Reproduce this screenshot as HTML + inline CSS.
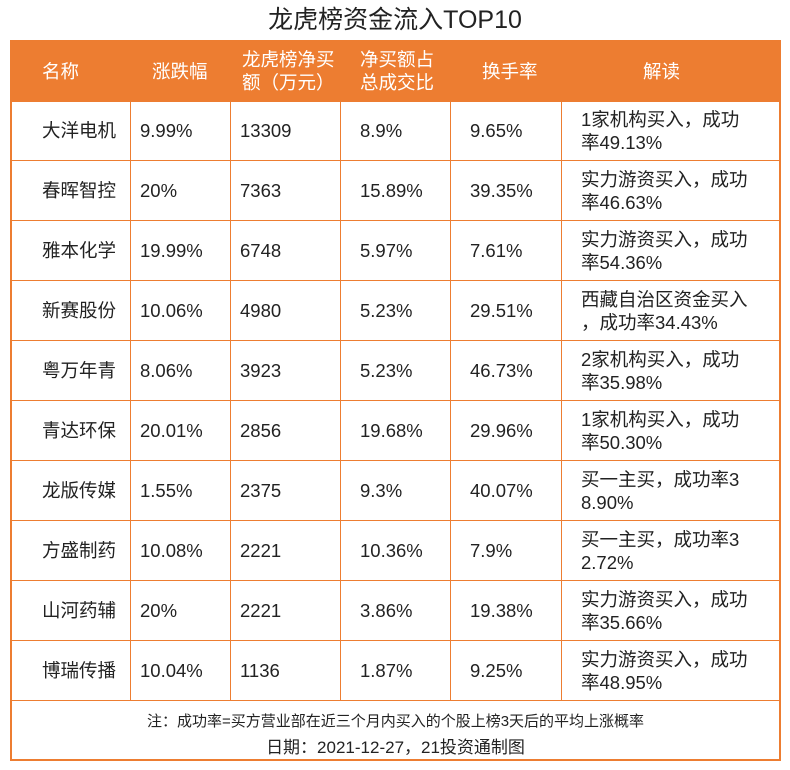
<!DOCTYPE html>
<html><head><meta charset="utf-8"><style>
body{margin:0;width:790px;height:770px;background:#fff;font-family:"Liberation Sans","Noto Sans CJK SC",sans-serif;color:#222;position:relative;overflow:hidden}
#title{position:absolute;left:0;width:790px;top:5px;text-align:center;font-size:25px;line-height:30px}
#tbl{position:absolute;left:10px;top:40px;width:771px;height:721px;border:2px solid #ED7D31;box-sizing:border-box}
.cell{position:absolute;font-size:18.5px;line-height:23px;display:flex;align-items:center;box-sizing:border-box}
.vl{position:absolute;width:1px;background:#ED7D31}
.hl{position:absolute;height:1px;background:#ED7D31;left:0;right:0}
#hdr{position:absolute;left:0;top:0;right:0;height:60px;background:#ED7D31}
.h{color:#fff}
#note{position:absolute;left:0;right:0;top:668px;text-align:center;font-size:15px}
#date{position:absolute;left:0;right:0;top:691px;text-align:center;font-size:17px}
</style></head><body>
<div id="title">龙虎榜资金流入TOP10</div>
<div id="tbl">
<div id="hdr"></div>
</div>
<script>
const names=["大洋电机","春晖智控","雅本化学","新赛股份","粤万年青","青达环保","龙版传媒","方盛制药","山河药辅","博瑞传播"];
const changes=["9.99%","20%","19.99%","10.06%","8.06%","20.01%","1.55%","10.08%","20%","10.04%"];
const netBuy=["13309","7363","6748","4980","3923","2856","2375","2221","2221","1136"];
const ratios=["8.9%","15.89%","5.97%","5.23%","5.23%","19.68%","9.3%","10.36%","3.86%","1.87%"];
const turnover=["9.65%","39.35%","7.61%","29.51%","46.73%","29.96%","40.07%","7.9%","19.38%","9.25%"];
const notes=["1家机构买入，成功<br>率49.13%","实力游资买入，成功<br>率46.63%","实力游资买入，成功<br>率54.36%","西藏自治区资金买入<br>，成功率34.43%","2家机构买入，成功<br>率35.98%","1家机构买入，成功<br>率50.30%","买一主买，成功率3<br>8.90%","买一主买，成功率3<br>2.72%","实力游资买入，成功<br>率35.66%","实力游资买入，成功<br>率48.95%"];
const headers=["名称","涨跌幅","龙虎榜净买<br>额（万元）","净买额占<br>总成交比","换手率","解读"];
const cols=[0,118,218,328,438,549,769];
const pad=[[30,0],[10,0],[10,0],[20,0],[20,0],[20,0]];
const t=document.getElementById('tbl');
const hpad=[30,22,12,20,32,82];
headers.forEach((h,i)=>{const d=document.createElement('div');d.className='cell h';


d.style.left=(cols[i]+hpad[i])+'px';d.style.top='0px';d.style.height='58px';d.style.width=(cols[i+1]-cols[i]-hpad[i])+'px';d.innerHTML=h;t.appendChild(d);});
const data=[names,changes,netBuy,ratios,turnover,notes];
for(let r=0;r<10;r++){const y=58+r*60;
const hl=document.createElement('div');hl.className='hl';hl.style.top=(y)+'px';


t.appendChild(hl);
data.forEach((arr,c)=>{const d=document.createElement('div');d.className='cell';


d.style.left=(cols[c]+pad[c][0])+'px';d.style.top=(y+1)+'px';d.style.height='59px';d.style.width=(cols[c+1]-cols[c]-pad[c][0])+'px';d.innerHTML=arr[r];t.appendChild(d);});}
const hb=document.createElement('div');hb.className='hl';hb.style.top='658px';


t.appendChild(hb);
for(let i=1;i<6;i++){const v=document.createElement('div');v.className='vl';v.style.left=cols[i]+'px';v.style.top='58px';v.style.height='600px';


t.appendChild(v);}
const n=document.createElement('div');n.id='note';n.textContent='注：成功率=买方营业部在近三个月内买入的个股上榜3天后的平均上涨概率';


t.appendChild(n);
const dt=document.createElement('div');dt.id='date';dt.textContent='日期：2021-12-27，21投资通制图';


t.appendChild(dt);
</script>
</body></html>
